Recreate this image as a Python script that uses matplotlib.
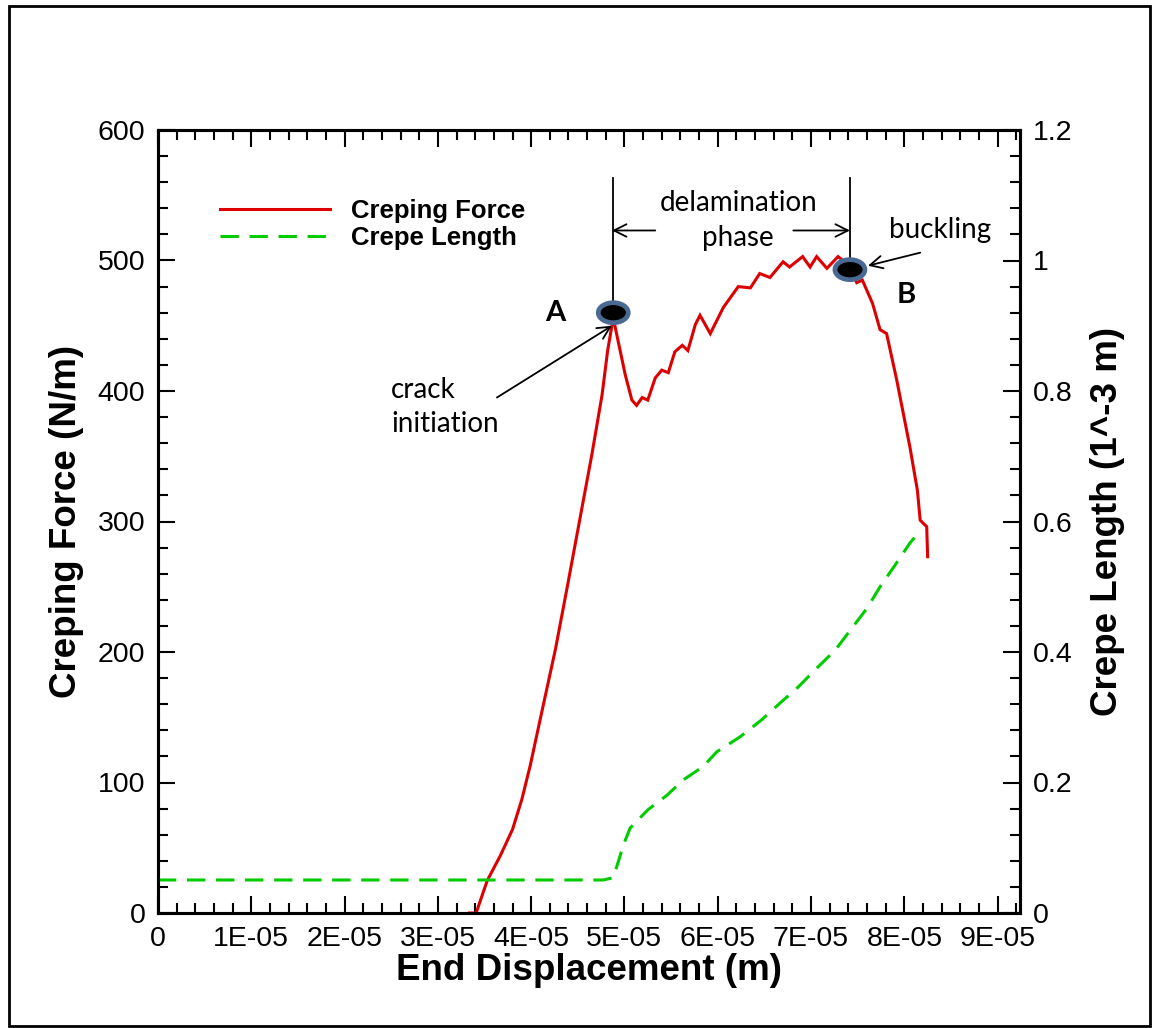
import numpy as np
import matplotlib
matplotlib.use("Agg")
import matplotlib.pyplot as plt
from matplotlib.patches import Ellipse, Rectangle
from matplotlib.ticker import MultipleLocator
from matplotlib.lines import Line2D

# ---- data -------------------------------------------------------------
UNIT = 1e-5  # displacement values below are given in units of 1E-05 m

force_disp = [3.34, 3.41, 3.53, 3.67, 3.80, 3.90, 3.99, 4.12, 4.26, 4.39,
              4.52, 4.65, 4.76, 4.82, 4.88, 4.93, 5.01, 5.08, 5.13, 5.19,
              5.25, 5.33, 5.40, 5.47, 5.54, 5.62, 5.68, 5.76, 5.81, 5.92,
              6.06, 6.22, 6.35, 6.45, 6.56, 6.70, 6.77, 6.91, 6.99, 7.06,
              7.17, 7.29, 7.38, 7.49, 7.55, 7.66, 7.74, 7.81, 7.92, 8.06,
              8.14, 8.17, 8.24, 8.25]
force_val = [0, 0, 25, 44, 64, 87, 113, 156, 202, 251,
             301, 351, 397, 431, 456, 439, 412, 393, 389, 395,
             393, 410, 416, 414, 430, 435, 431, 451, 458, 444,
             464, 480, 479, 490, 487, 499, 495, 503, 495, 503,
             494, 503, 498, 483, 485, 467, 447, 444, 408, 357,
             324, 301, 296, 273]

length_disp = [0.0, 4.77, 4.88, 4.95, 4.98, 5.06, 5.25, 5.46, 5.63, 5.84,
               5.99, 6.24, 6.47, 6.67, 6.86, 7.06, 7.26, 7.44, 7.60, 7.74,
               7.90, 8.06, 8.15]
length_val = [0.0506, 0.0506, 0.054, 0.086, 0.101, 0.130, 0.158, 0.181, 0.204, 0.224,
              0.247, 0.270, 0.296, 0.322, 0.346, 0.375, 0.403, 0.437, 0.467, 0.500,
              0.533, 0.567, 0.582]

x_tick_vals = [0, 1, 2, 3, 4, 5, 6, 7, 8, 9]
x_tick_labels = ["0", "1E-05", "2E-05", "3E-05", "4E-05", "5E-05",
                 "6E-05", "7E-05", "8E-05", "9E-05"]
left_ticks = [0, 100, 200, 300, 400, 500, 600]
right_ticks = [0, 0.2, 0.4, 0.6, 0.8, 1.0, 1.2]
right_tick_labels = ["0", "0.2", "0.4", "0.6", "0.8", "1", "1.2"]

# key points
point_a = (4.88, 460)
point_b = (7.417, 493)

# ---- figure -------------------------------------------------------------
W, H, DPI = 1155, 1028, 100
fig = plt.figure(figsize=(W / DPI, H / DPI), dpi=DPI)
ax = fig.add_axes([158 / W, 1 - 913 / H, (1020 - 158) / W, (913 - 130) / H])
ax2 = ax.twinx()

TICK_FONT = dict(family="Liberation Sans", size=20.5)
LABEL_FONT = dict(family="Liberation Sans", size=26.5, weight="bold")
NOTE_FONT = dict(family="Lato", size=20)

fx = np.array(force_disp) * UNIT
lx = np.array(length_disp) * UNIT

ax.plot(fx, force_val, color="#dd0000", lw=2.2, solid_joinstyle="miter",
        zorder=3)
ax2.plot(lx, length_val, color="#00cc00", lw=2.2, dashes=(6, 3.5))

ax.set_xlim(0, 9.24 * UNIT)
ax.set_ylim(0, 600)
ax2.set_ylim(0, 1.2)

ax.set_xticks(np.array(x_tick_vals) * UNIT)
ax.set_xticklabels(x_tick_labels, **TICK_FONT)
ax.xaxis.set_minor_locator(MultipleLocator(0.2 * UNIT))
ax.set_yticks(left_ticks)
ax.set_yticklabels([str(v) for v in left_ticks], **TICK_FONT)
ax.yaxis.set_minor_locator(MultipleLocator(20))
ax2.set_yticks(right_ticks)
ax2.set_yticklabels(right_tick_labels, **TICK_FONT)
ax2.yaxis.set_minor_locator(MultipleLocator(0.04))

for a in (ax, ax2):
    for s in a.spines.values():
        s.set_linewidth(2.2)
ax.tick_params(which="both", direction="in", top=True, bottom=True,
               left=True, right=False, width=1.5)
ax.tick_params(which="major", length=12, pad=9)
ax.tick_params(which="minor", length=7)
ax2.tick_params(which="both", direction="in", right=True, left=False,
                width=1.5)
ax2.tick_params(which="major", length=12, pad=9)
ax2.tick_params(which="minor", length=7)

ax.set_xlabel("End Displacement (m)", **LABEL_FONT)
ax.xaxis.set_label_coords(0.5, -0.073)
ax.xaxis.label.set_va("center")
ax.set_ylabel("Creping Force (N/m)", **LABEL_FONT)
ax.yaxis.set_label_coords(-0.106, 0.5)
ax.yaxis.label.set_va("center")
ax2.set_ylabel("Crepe Length (1^-3 m)", **LABEL_FONT)
ax2.yaxis.set_label_coords(1.101, 0.5)
ax2.yaxis.label.set_va("center")

# ---- annotations --------------------------------------------------------
line_kw = dict(color="black", lw=1.3, zorder=4)
top_y = 563
ax.plot([point_a[0] * UNIT] * 2, [point_a[1], top_y], **line_kw)
ax.plot([point_b[0] * UNIT] * 2, [point_b[1], top_y], **line_kw)

arrow_kw = dict(arrowstyle="->,head_length=0.9,head_width=0.45",
                color="black", lw=1.3, shrinkA=0, shrinkB=0)
ax.annotate("", xy=(4.866 * UNIT, 523), xytext=(5.33 * UNIT, 523),
            arrowprops=arrow_kw, zorder=4)
ax.annotate("", xy=(7.417 * UNIT, 523), xytext=(6.81 * UNIT, 523),
            arrowprops=arrow_kw, zorder=4)
ax.annotate("", xy=(7.61 * UNIT, 496), xytext=(8.17 * UNIT, 506),
            arrowprops=arrow_kw, zorder=4)
ax.annotate("", xy=(4.866 * UNIT, 450), xytext=(3.633 * UNIT, 395),
            arrowprops=arrow_kw, zorder=4)

ax.text(6.22 * UNIT, 544, "delamination", ha="center", va="center", **NOTE_FONT)
ax.text(6.22 * UNIT, 517, "phase", ha="center", va="center", **NOTE_FONT)
ax.text(8.38 * UNIT, 523, "buckling", ha="center", va="center", **NOTE_FONT)
ax.text(2.497 * UNIT, 401, "crack", ha="left", va="center", **NOTE_FONT)
ax.text(2.497 * UNIT, 375, "initiation", ha="left", va="center", **NOTE_FONT)
ax.text(4.255 * UNIT, 460, "A", ha="center", va="center",
        family="Lato", size=21, weight="bold")
ax.text(8.02 * UNIT, 473.6, "B", ha="center", va="center",
        family="Lato", size=21, weight="bold")

for px, py in (point_a, point_b):
    ax.add_patch(Ellipse((px * UNIT, py), width=30 / 93.3 * UNIT,
                         height=20 / 1.305, facecolor="black",
                         edgecolor="#4a6a94", lw=3.4, zorder=5))

# ---- legend -------------------------------------------------------------
handles = [Line2D([], [], color="#dd0000", lw=2.2),
           Line2D([], [], color="#00cc00", lw=2.2, dashes=(6, 3.5))]
fig.legend(handles, ["Creping Force", "Crepe Length"], loc="upper left",
           bbox_to_anchor=(220 / W, 1 - 199 / H), frameon=False,
           handlelength=4.3, handletextpad=0.8, labelspacing=0.12,
           borderpad=0, borderaxespad=0,
           prop=dict(family="Liberation Sans", size=18.5, weight="bold"))

# outer frame
fig.add_artist(Rectangle((9 / W, 1 - 1026 / H), (1150 - 9) / W, (1026 - 6) / H,
                         transform=fig.transFigure, fill=False, lw=2,
                         edgecolor="black"))

fig.savefig("out.png", dpi=DPI)
